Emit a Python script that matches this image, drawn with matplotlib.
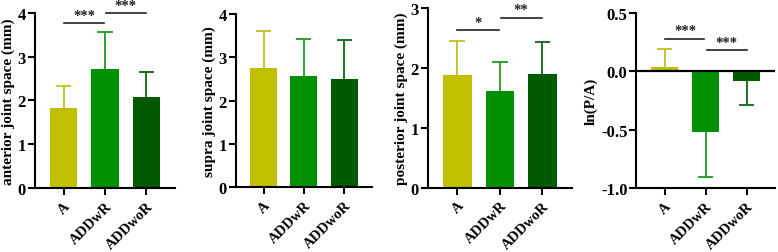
import matplotlib.pyplot as plt

plt.rcParams['font.family'] = ['Liberation Serif', 'DejaVu Serif']
plt.rcParams['font.weight'] = 'bold'

groups = ['A', 'ADDwR', 'ADDwoR']
bar_colors = ['#c0c000', '#009000', '#005a00']
err_colors = ['#c4c430', '#30a030', '#207020']

anterior_mean = [1.83, 2.72, 2.07]
anterior_sd = [0.49, 0.84, 0.58]
supra_mean = [2.76, 2.58, 2.50]
supra_sd = [0.84, 0.84, 0.89]
posterior_mean = [1.89, 1.62, 1.90]
posterior_sd = [0.56, 0.49, 0.54]
lnpa_mean = [0.04, -0.52, -0.08]
lnpa_sd = [0.15, 0.39, 0.21]

# (left bar, right bar, line height, stars)
anterior_sig = [(0, 1, 3.76, '***'), (1, 2, 3.99, '***')]
posterior_sig = [(0, 1, 2.63, '*'), (1, 2, 2.84, '**')]
lnpa_sig = [(0, 1, 0.28, '***'), (1, 2, 0.18, '***')]

panels = [
    dict(mean=anterior_mean, sd=anterior_sd, ylabel='anterior joint space (mm)',
         ylim=(0, 4), yticks=[0, 1, 2, 3, 4], fmt='{:.0f}', sig=anterior_sig,
         rect=[0.045, 0.253, 0.180, 0.692]),
    dict(mean=supra_mean, sd=supra_sd, ylabel='supra joint space (mm)',
         ylim=(0, 4), yticks=[0, 1, 2, 3, 4], fmt='{:.0f}', sig=[],
         rect=[0.303, 0.255, 0.175, 0.686]),
    dict(mean=posterior_mean, sd=posterior_sd, ylabel='posterior joint space (mm)',
         ylim=(0, 3), yticks=[0, 1, 2, 3], fmt='{:.0f}', sig=posterior_sig,
         rect=[0.550, 0.254, 0.185, 0.709]),
    dict(mean=lnpa_mean, sd=lnpa_sd, ylabel='ln(P/A)',
         ylim=(-1.0, 0.5), yticks=[-1.0, -0.5, 0.0, 0.5], fmt='{:.1f}', sig=lnpa_sig,
         rect=[0.818, 0.253, 0.178, 0.692]),
]

fig = plt.figure(figsize=(7.78, 2.53), dpi=100)

cap = 0.16
for p in panels:
    ax = fig.add_axes(p['rect'])
    x = range(len(groups))
    ax.bar(x, p['mean'], width=0.67, color=bar_colors, zorder=2)
    # one-sided error bars, same colour family as the bar
    for i, (m, s) in enumerate(zip(p['mean'], p['sd'])):
        end = m + s if m >= 0 else m - s
        ax.plot([i, i], [m, end], color=err_colors[i], lw=1.4, zorder=1)
        ax.plot([i - cap, i + cap], [end, end], color=err_colors[i], lw=1.4, zorder=1)
    # significance brackets
    for a, b, h, stars in p['sig']:
        x0 = a + 0.03 if a > 0 else a
        x1 = b - 0.03 if b < 2 else b
        ax.plot([x0, x1], [h, h], color='#222222', lw=1.2, clip_on=False)
        ax.text((a + b) / 2, h + 0.008 * (p['ylim'][1] - p['ylim'][0]), stars,
                ha='center', va='bottom', fontsize=10.5, color='#222222')
    if p['ylim'][0] < 0:
        ax.axhline(0, color='black', lw=1.6, zorder=3)
    ax.set_xlim(-0.69, 2.69)
    ax.set_ylim(*p['ylim'])
    ax.set_yticks(p['yticks'])
    ax.set_yticklabels([p['fmt'].format(v) for v in p['yticks']])
    ax.set_xticks(list(x))
    ax.set_xticklabels(groups, rotation=45, ha='right', rotation_mode='anchor')
    ax.set_ylabel(p['ylabel'], fontsize=11, fontweight='bold', labelpad=2)
    ax.tick_params(axis='y', labelsize=12, width=1.5, length=5, pad=1.5)
    ax.tick_params(axis='x', labelsize=10.5, width=1.5, length=5, pad=3)
    for side in ['top', 'right']:
        ax.spines[side].set_visible(False)
    for side in ['left', 'bottom']:
        ax.spines[side].set_linewidth(1.5)

fig.savefig('out.png', dpi=100)
